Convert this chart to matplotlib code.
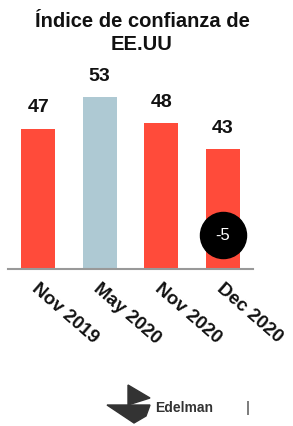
import matplotlib.pyplot as plt
from matplotlib.patches import Polygon
from matplotlib.transforms import ScaledTranslation

periods = ["Nov 2019", "May 2020", "Nov 2020", "Dec 2020"]
values = [47, 53, 48, 43]
bar_colors = ["#FF4B3A", "#AEC9D3", "#FF4B3A", "#FF4B3A"]
change_label = "-5"
change_pos = (3, 26.5)

plt.rcParams['font.family'] = ['Liberation Sans', 'DejaVu Sans']

W, H = 293, 426
fig = plt.figure(figsize=(W / 100, H / 100), dpi=100)

# axes placed in pixel terms of the reference
ax = fig.add_axes([8 / W, 157 / H, 245 / W, 208 / H])
bars = ax.bar(range(len(values)), values, width=0.55, color=bar_colors)
ax.set_xlim(-0.49, 3.49)
ax.set_ylim(20, 60)

for s in ["top", "right", "left"]:
    ax.spines[s].set_visible(False)
ax.spines["bottom"].set_color("#999999")
ax.spines["bottom"].set_linewidth(1.5)
ax.set_yticks([])
ax.tick_params(axis="x", length=0, pad=13)
ax.set_xticks(range(len(periods)))
ax.set_xticklabels(periods, rotation=-41, ha="left", va="center",
                   rotation_mode="anchor", fontsize=13.5, fontweight="bold",
                   color="#111111")
shift = ScaledTranslation(-4 / 100, 0, fig.dpi_scale_trans)
for lbl in ax.get_xticklabels():
    lbl.set_transform(lbl.get_transform() + shift)

ax.bar_label(bars, padding=9, fontsize=14, fontweight="bold", color="#111111")

# change bubble
ax.scatter([change_pos[0]], [change_pos[1]], s=1100, color="black", zorder=5,
           clip_on=False)
ax.text(change_pos[0], change_pos[1], change_label, color="white", fontsize=12,
        ha="center", va="center", zorder=6)

fig.text(142 / W, 1 - 33 / H, "Índice de confianza de\nEE.UU", ha="center",
         va="center", fontsize=14.5, fontweight="bold", color="#111111",
         linespacing=1.25)

# footer logo
def px(x, y):
    return (x / W, 1 - y / H)

sail = Polygon([px(128, 385), px(150, 398), px(128, 405)], closed=True,
               transform=fig.transFigure, color="#333333")
hull = Polygon([px(107, 405), px(150, 405), px(146, 416), px(134, 423)],
               closed=True, transform=fig.transFigure, color="#333333")
fig.patches.extend([sail, hull])
fig.text(*px(155, 408), "Edelman", ha="left", va="center", fontsize=10,
         fontweight="bold", color="#333333")
fig.text(*px(248, 408), "|", ha="center", va="center", fontsize=11,
         color="#333333")

plt.savefig("out.png", dpi=100)
